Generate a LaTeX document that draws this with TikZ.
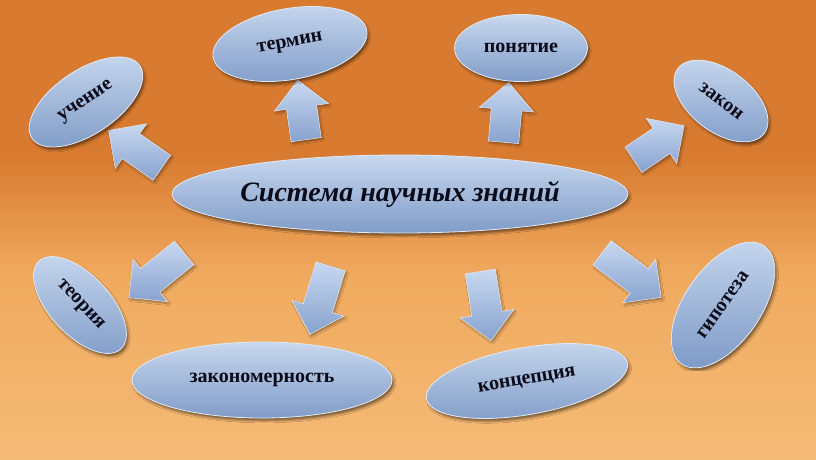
\documentclass[tikz,border=0pt]{standalone}
\usepackage{fontspec}
\setmainfont{Liberation Serif}
\usetikzlibrary{shapes.geometric}
\usetikzlibrary{shapes.arrows}
\usetikzlibrary{shadows.blur}

\definecolor{bgtop}{RGB}{216,123,48}
\definecolor{bgmid}{RGB}{240,170,95}
\definecolor{bgbot}{RGB}{251,212,152}
\definecolor{elltop}{RGB}{200,216,238}
\definecolor{ellbot}{RGB}{128,156,200}
\definecolor{ellrim}{RGB}{225,235,248}
\definecolor{arrtop}{RGB}{200,216,240}
\definecolor{arrbot}{RGB}{135,162,206}
\definecolor{ink}{RGB}{10,10,25}

\pgfdeclareverticalshading{bgshade}{100bp}{color(0bp)=(bgbot); color(25bp)=(bgmid!60!bgbot); color(45bp)=(bgmid); color(58bp)=(bgtop); color(100bp)=(bgtop)}

\begin{document}
\begin{tikzpicture}[%
  x=1pt, y=-1pt,
  item/.style={ellipse, inner sep=0pt, top color=elltop, bottom color=ellbot,
    draw=ellrim, line width=0.8pt, text=ink,
    font=\fontsize{20}{20}\selectfont\bfseries,
    blur shadow={shadow xshift=2pt, shadow yshift=-3pt, shadow opacity=45}},
  bigarrow/.style={single arrow, inner xsep=0pt, inner ysep=15pt,
    single arrow head extend=12pt, minimum height=#1,
    top color=arrtop, bottom color=arrbot, draw=arrtop!50!white, line width=0.5pt,
    blur shadow={shadow xshift=1.5pt, shadow yshift=-2pt, shadow opacity=35}},
  bigarrow/.default=70pt
]

  \useasboundingbox (0,0) rectangle (816,459);
  \shade[shading=bgshade] (0,0) rectangle (816,459);

  % arrows from the centre
  \node[bigarrow=65pt, rotate=145] (a1) at (141.5,153.5) {};
  \node[bigarrow=60pt, rotate=98] (a2) at (303,117.5) {};
  \node[bigarrow=60pt, rotate=85] (a3) at (505.5,120) {};
  \node[bigarrow=61pt, rotate=34] (a4) at (652.5,147) {};
  \node[bigarrow=71pt, rotate=-141] (a5) at (162.5,270.5) {};
  \node[bigarrow=71pt, rotate=-107] (a6) at (322.5,293) {};
  \node[bigarrow=70pt, rotate=-81] (a7) at (484.5,298.5) {};
  \node[bigarrow=74pt, rotate=-37] (a8) at (625.5,270.5) {};

  \node[item, minimum width=456pt, minimum height=78pt,
    font=\fontsize{28}{28}\selectfont\bfseries\itshape] (sys) at (400,194) {Система научных знаний};

  \node[item, minimum width=130pt, minimum height=64pt, rotate=34] (uch) at (86,102) {учение};
  \node[item, minimum width=156pt, minimum height=71pt, rotate=10] (term) at (290,44) {термин};
  \node[item, minimum width=133pt, minimum height=67pt] (pon) at (521,48) {понятие};
  \node[item, minimum width=108pt, minimum height=62pt, rotate=-37] (zak) at (721,101) {закон};
  \node[item, minimum width=120pt, minimum height=60pt, rotate=-47] (teo) at (80,305) {теория};
  \node[item, minimum width=260pt, minimum height=76pt] (zkn) at (262,380) {закономерность};
  \node[item, minimum width=204pt, minimum height=67pt, rotate=10] (konc) at (527,381) {концепция};
  \node[item, minimum width=144pt, minimum height=76pt, rotate=55] (gip) at (723,305) {гипотеза};

\end{tikzpicture}
\end{document}
